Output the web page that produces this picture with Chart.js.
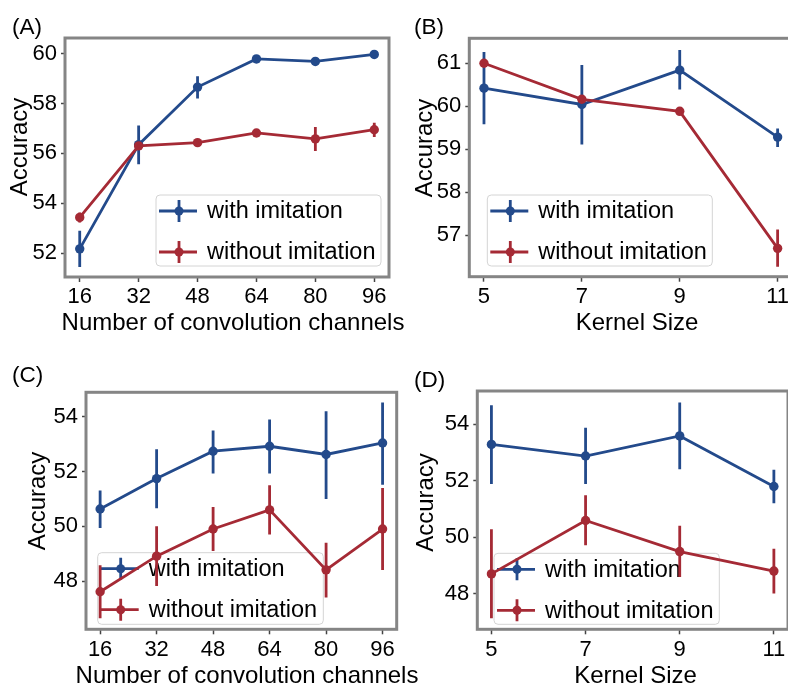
<!DOCTYPE html>
<html>
<head>
<meta charset="utf-8">
<script src="https://cdn.jsdelivr.net/npm/chart.js@4.4.1/dist/chart.umd.min.js"></script>
<style>
  html, body { margin: 0; padding: 0; width: 788px; height: 687px; overflow: hidden; background: #fff; }
  .panel { position: absolute; }
  .tag { position: absolute; font: 22.5px "Liberation Sans", Arial, sans-serif; line-height: 1; color: #000; }
</style>
</head>
<body>
<div class="panel" style="left:0;top:0"><canvas id="chartA" width="430" height="340"></canvas></div>
<div class="panel" style="left:400px;top:0"><canvas id="chartB" width="400" height="340"></canvas></div>
<div class="panel" style="left:0;top:340px"><canvas id="chartC" width="430" height="347"></canvas></div>
<div class="panel" style="left:400px;top:340px"><canvas id="chartD" width="400" height="347"></canvas></div>
<div class="tag" style="left:12px;top:16px">(A)</div>
<div class="tag" style="left:414px;top:16px">(B)</div>
<div class="tag" style="left:12px;top:364px">(C)</div>
<div class="tag" style="left:414px;top:369px">(D)</div>
<script>
// x categories
const channels = [16, 32, 48, 64, 80, 96];
const kernelSizes = [5, 7, 9, 11];

// (A) channels, first metric
const chanWithA = [52.17, 56.35, 58.66, 59.79, 59.69, 59.97];
const chanWithALow = [51.44, 55.56, 58.2, 59.72, 59.62, 59.9];
const chanWithAHigh = [52.9, 57.12, 59.1, 59.86, 59.76, 60.04];
const chanWithoutA = [53.43, 56.3, 56.43, 56.82, 56.58, 56.95];
const chanWithoutALow = [53.23, 56.25, 56.37, 56.75, 56.1, 56.66];
const chanWithoutAHigh = [53.63, 56.35, 56.49, 56.89, 57.06, 57.23];

// (B) kernel size, first metric
const kernWithB = [60.42, 60.04, 60.84, 59.28];
const kernWithBLow = [59.58, 59.11, 60.39, 59.05];
const kernWithBHigh = [61.26, 60.96, 61.31, 59.48];
const kernWithoutB = [61.0, 60.16, 59.88, 56.69];
const kernWithoutBLow = [60.95, 60.1, 59.83, 56.26];
const kernWithoutBHigh = [61.05, 60.22, 59.93, 57.13];

// (C) channels, second metric
const chanWithC = [50.63, 51.74, 52.74, 52.92, 52.62, 53.04];
const chanWithCLow = [49.94, 50.66, 51.93, 51.93, 51.0, 51.52];
const chanWithCHigh = [51.31, 52.81, 53.5, 53.9, 54.2, 54.52];
const chanWithoutC = [47.61, 48.91, 49.9, 50.6, 48.41, 49.9];
const chanWithoutCLow = [46.64, 47.82, 49.1, 49.7, 47.4, 48.4];
const chanWithoutCHigh = [48.58, 50.0, 50.7, 51.5, 49.4, 51.4];

// (D) kernel size, second metric
const kernWithD = [53.29, 52.88, 53.59, 51.8];
const kernWithDLow = [51.89, 51.89, 52.41, 51.21];
const kernWithDHigh = [54.68, 53.88, 54.77, 52.39];
const kernWithoutD = [48.71, 50.6, 49.5, 48.81];
const kernWithoutDLow = [47.14, 49.72, 48.6, 48.02];
const kernWithoutDHigh = [50.29, 51.49, 50.41, 49.6];

// tick labels
const yTicksA = [52, 54, 56, 58, 60];
const yTicksB = [57, 58, 59, 60, 61];
const yTicksCD = [48, 50, 52, 54];

const seriesNames = ["with imitation", "without imitation"];
const BLUE = "#234a8b";
const RED = "#a52a35";
const FONT = '"Liberation Sans", Arial, sans-serif';
const LINE_W = 2.8;

Chart.defaults.font.family = FONT;

function drawHandle(ctx, x, y, color) {
  ctx.strokeStyle = color;
  ctx.fillStyle = color;
  ctx.lineWidth = LINE_W;
  ctx.beginPath();
  ctx.moveTo(x, y);
  ctx.lineTo(x + 38, y);
  ctx.moveTo(x + 20, y - 11);
  ctx.lineTo(x + 20, y + 11);
  ctx.stroke();
  ctx.beginPath();
  ctx.arc(x + 20, y, 4.5, 0, Math.PI * 2);
  ctx.fill();
}

const panelDeco = {
  id: "panelDeco",
  beforeDatasetsDraw(chart, args, opts) {
    const ctx = chart.ctx;
    const { x, y, w, h } = opts.legend;
    ctx.save();
    ctx.beginPath();
    ctx.roundRect(x, y, w, h, 4);
    ctx.fillStyle = "rgba(255,255,255,0.8)";
    ctx.fill();
    ctx.strokeStyle = "#d4d4d4";
    ctx.lineWidth = 1;
    ctx.stroke();
    ctx.font = "23.5px " + FONT;
    ctx.textBaseline = "middle";
    chart.data.datasets.forEach((ds, i) => {
      const rowY = y + 16 + i * 41;
      drawHandle(ctx, x + 3, rowY, ds.borderColor);
      ctx.fillStyle = "#000";
      ctx.fillText(ds.label, x + 51, rowY + 1);
    });
    ctx.restore();
  },
  afterDatasetDraw(chart, args) {
    const ds = chart.data.datasets[args.index];
    const xs = chart.scales.x;
    const ys = chart.scales.y;
    const ctx = chart.ctx;
    ctx.save();
    ctx.strokeStyle = ds.borderColor;
    ctx.lineWidth = LINE_W;
    ctx.beginPath();
    ds.data.forEach((p, i) => {
      const px = xs.getPixelForValue(p.x);
      ctx.moveTo(px, ys.getPixelForValue(ds.errLow[i]));
      ctx.lineTo(px, ys.getPixelForValue(ds.errHigh[i]));
    });
    ctx.stroke();
    ctx.restore();
  },
  afterDraw(chart, args, opts) {
    const ctx = chart.ctx;
    const a = chart.chartArea;
    ctx.save();
    ctx.strokeStyle = "#858585";
    ctx.lineWidth = 3;
    ctx.strokeRect(a.left, a.top, a.right - a.left, a.bottom - a.top);
    ctx.fillStyle = "#000";
    ctx.font = "24px " + FONT;
    ctx.textAlign = "center";
    ctx.textBaseline = "middle";
    ctx.fillText(opts.xTitle.text, opts.xTitle.x, opts.xTitle.y);
    ctx.translate(opts.yTitle.x, opts.yTitle.y);
    ctx.rotate(-Math.PI / 2);
    ctx.fillText(opts.yTitle.text, 0, 0);
    ctx.restore();
  },
};

function makeSeries(label, color, xsArr, vals, low, high, order) {
  return {
    label,
    data: xsArr.map((v, i) => ({ x: v, y: vals[i] })),
    errLow: low,
    errHigh: high,
    borderColor: color,
    backgroundColor: color,
    borderWidth: LINE_W,
    pointRadius: 4.7,
    pointHoverRadius: 4.7,
    pointBorderWidth: 0,
    tension: 0,
    order,
  };
}

function makePanel(id, cfg) {
  const canvas = document.getElementById(id);
  const W = canvas.width;
  const H = canvas.height;
  const area = cfg.area;
  new Chart(canvas, {
    type: "line",
    data: { datasets: cfg.datasets },
    plugins: [panelDeco],
    options: {
      responsive: false,
      animation: false,
      events: [],
      layout: { autoPadding: false, padding: { left: 0, top: area.t, right: W - area.r, bottom: 0 } },
      plugins: {
        legend: { display: false },
        tooltip: { enabled: false },
        panelDeco: { legend: cfg.legend, xTitle: cfg.xTitle, yTitle: cfg.yTitle },
      },
      scales: {
        x: {
          type: "linear",
          min: cfg.xRange[0],
          max: cfg.xRange[1],
          afterBuildTicks: (s) => { s.ticks = cfg.xTicks.map((v) => ({ value: v })); },
          afterFit: (s) => { s.height = H - area.b; },
          grid: { drawOnChartArea: false, drawTicks: true, tickLength: 5, tickColor: "#444", tickWidth: 1.5 },
          border: { display: false },
          ticks: { color: "#000", font: { size: 22 }, padding: 2, maxRotation: 0, autoSkip: false },
        },
        y: {
          type: "linear",
          min: cfg.yRange[0],
          max: cfg.yRange[1],
          afterBuildTicks: (s) => { s.ticks = cfg.yTicks.map((v) => ({ value: v })); },
          afterFit: (s) => { s.width = area.l; },
          grid: { drawOnChartArea: false, drawTicks: true, tickLength: 4, tickColor: "#444", tickWidth: 1.5 },
          border: { display: false },
          ticks: { color: "#000", font: { size: 22 }, padding: 4 },
        },
      },
    },
  });
}

makePanel("chartA", {
  area: { l: 65, t: 38, r: 389, b: 277 },
  xRange: [12, 100], yRange: [51.04, 60.63],
  xTicks: channels, yTicks: yTicksA,
  legend: { x: 156, y: 195, w: 225, h: 71 },
  xTitle: { text: "Number of convolution channels", x: 233, y: 323 },
  yTitle: { text: "Accuracy", x: 20, y: 147 },
  datasets: [
    makeSeries(seriesNames[0], BLUE, channels, chanWithA, chanWithALow, chanWithAHigh, 2),
    makeSeries(seriesNames[1], RED, channels, chanWithoutA, chanWithoutALow, chanWithoutAHigh, 1),
  ],
});

makePanel("chartB", {
  area: { l: 69.3, t: 38.3, r: 392.3, b: 276.7 },
  xRange: [4.7, 11.3], yRange: [56.03, 61.58],
  xTicks: kernelSizes, yTicks: yTicksB,
  legend: { x: 87.3, y: 195, w: 225, h: 71 },
  xTitle: { text: "Kernel Size", x: 237, y: 323 },
  yTitle: { text: "Accuracy", x: 25, y: 148 },
  datasets: [
    makeSeries(seriesNames[0], BLUE, kernelSizes, kernWithB, kernWithBLow, kernWithBHigh, 2),
    makeSeries(seriesNames[1], RED, kernelSizes, kernWithoutB, kernWithoutBLow, kernWithoutBHigh, 1),
  ],
});

makePanel("chartC", {
  area: { l: 86, t: 52.3, r: 396.7, b: 289.3 },
  xRange: [12, 100], yRange: [46.24, 54.89],
  xTicks: channels, yTicks: yTicksCD,
  legend: { x: 97.7, y: 212.7, w: 225.6, h: 71.6 },
  xTitle: { text: "Number of convolution channels", x: 247, y: 336.7 },
  yTitle: { text: "Accuracy", x: 38.3, y: 161 },
  datasets: [
    makeSeries(seriesNames[0], BLUE, channels, chanWithC, chanWithCLow, chanWithCHigh, 2),
    makeSeries(seriesNames[1], RED, channels, chanWithoutC, chanWithoutCLow, chanWithoutCHigh, 1),
  ],
});

makePanel("chartD", {
  area: { l: 77.3, t: 51, r: 388, b: 289.3 },
  xRange: [4.7, 11.3], yRange: [46.75, 55.18],
  xTicks: kernelSizes, yTicks: yTicksCD,
  legend: { x: 94, y: 213.3, w: 225.3, h: 71 },
  xTitle: { text: "Kernel Size", x: 235.5, y: 336.7 },
  yTitle: { text: "Accuracy", x: 26.7, y: 162.5 },
  datasets: [
    makeSeries(seriesNames[0], BLUE, kernelSizes, kernWithD, kernWithDLow, kernWithDHigh, 2),
    makeSeries(seriesNames[1], RED, kernelSizes, kernWithoutD, kernWithoutDLow, kernWithoutDHigh, 1),
  ],
});
</script>
</body>
</html>
